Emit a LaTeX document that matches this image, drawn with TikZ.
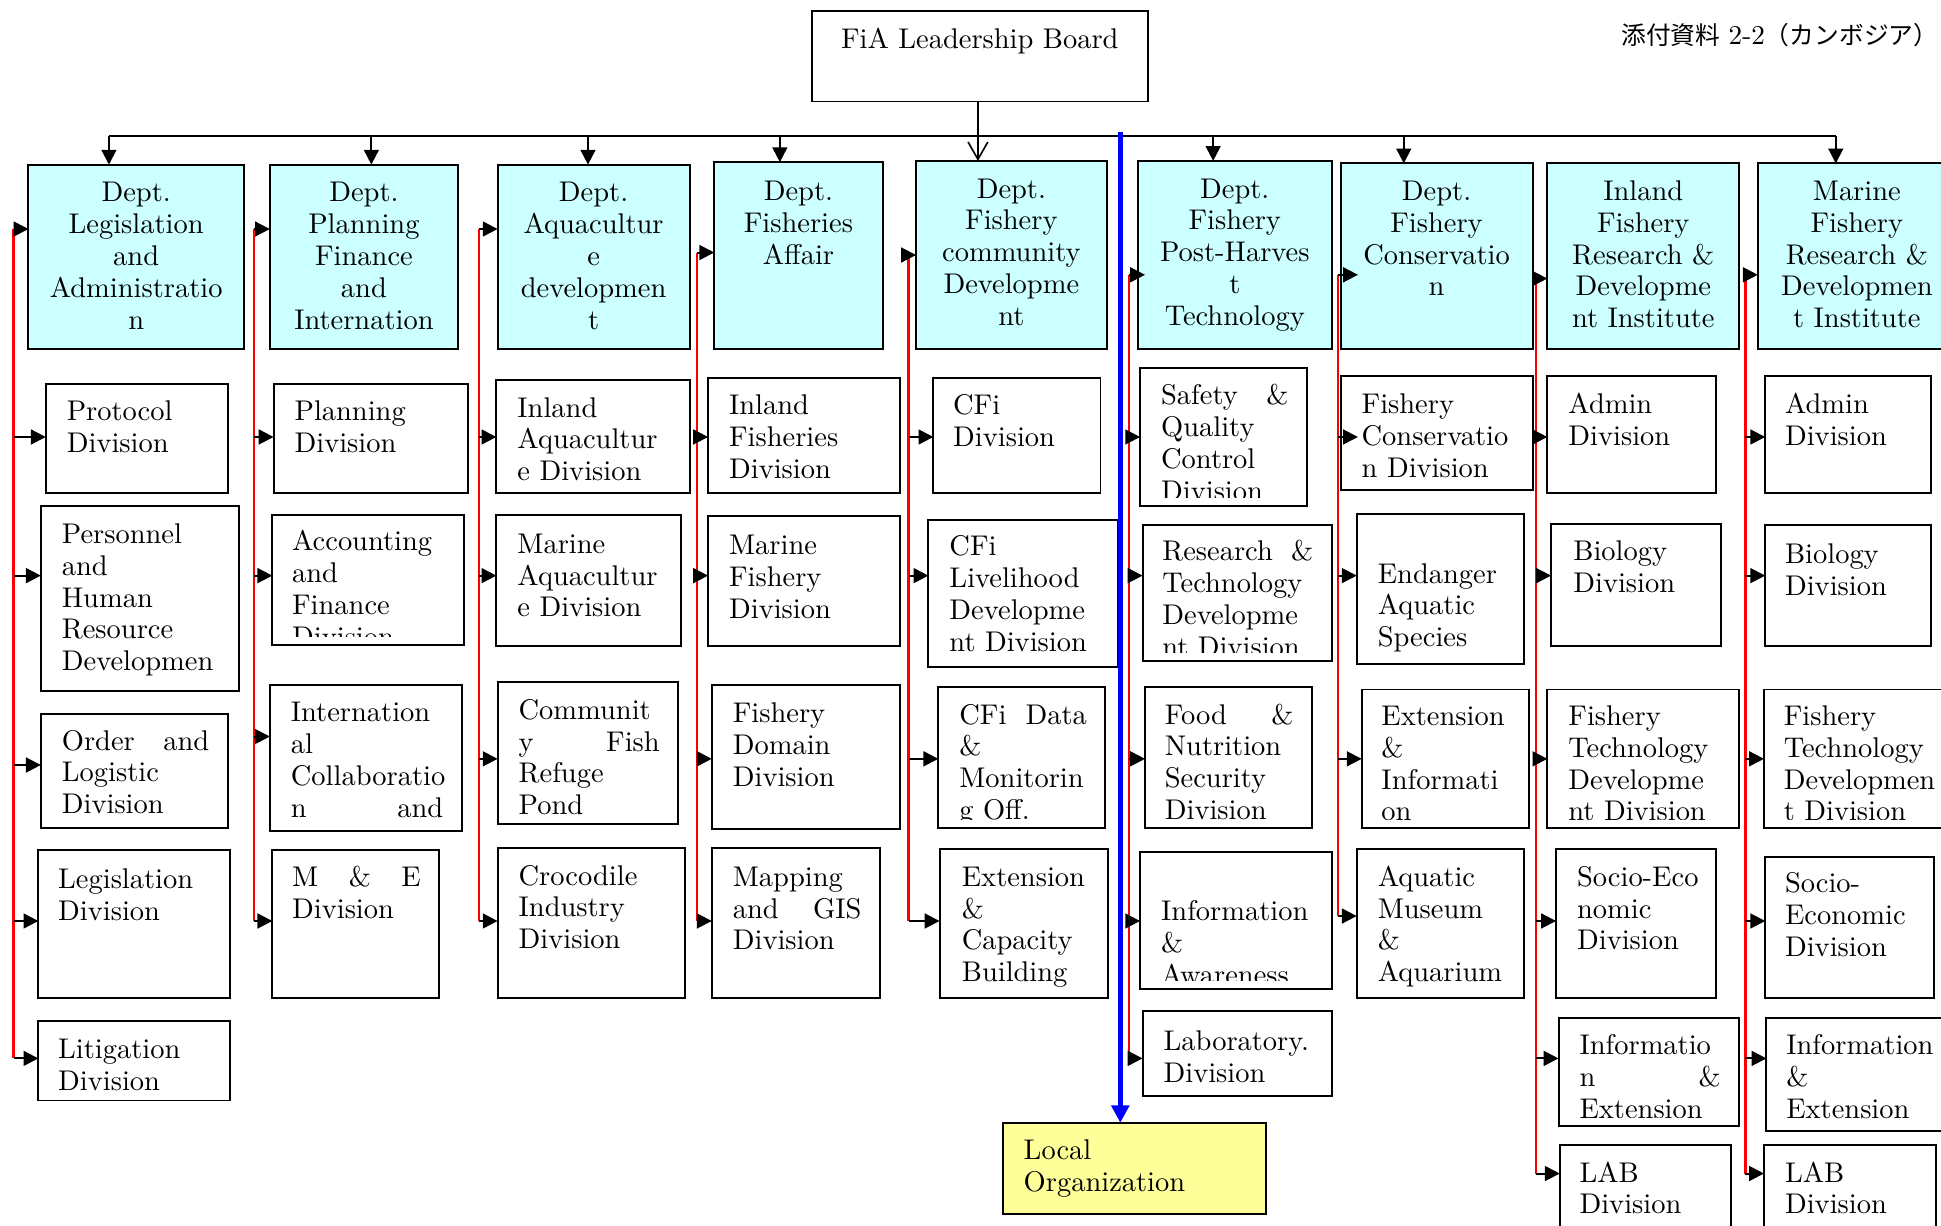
\documentclass[tikz,border=0pt]{standalone}
\usepackage{fontspec}
\setmainfont{lmroman10-regular}[Extension=.otf]
\newfontfamily\cjk{Noto Sans CJK JP}
\usetikzlibrary{arrows.meta}
\definecolor{cyanb}{HTML}{CCFFFF}
\definecolor{yel}{HTML}{FFFF99}
\tikzset{
 bx/.style={draw=black, line width=1.6pt, rectangle, inner sep=0pt, outer sep=0pt},
 txt/.style={inner sep=0pt, outer sep=0pt, font=\fontsize{23}{25.7}\selectfont},
 arr/.style={line width=1.6pt, -{Triangle[length=12pt,width=12pt]}},
 redl/.style={red, line width=2pt},
}
% name, x1, y1, x2, y2, text-x, first baseline, text
\newcommand\mybox[8]{%
 \node[bx, fill=white, minimum width={(#4-#2)*1pt}, minimum height={(#5-#3)*1pt}] (#1) at ({(#2+#4)/2},{(#3+#5)/2}) {};
 \begin{scope}
 \clip (#2,#3) rectangle (#4,#5-7);
 \node[txt, align=left, text width={(#4-#6-15)*1pt}, anchor=north west] (#1t) at (#6,#7-18) {\strut #8};
 \end{scope}}
% name, x1, y1, x2, y2, first baseline, text
\newcommand\mydept[7]{%
 \node[bx, fill=cyanb, minimum width={(#4-#2)*1pt}, minimum height={(#5-#3)*1pt}] (#1) at ({(#2+#4)/2},{(#3+#5)/2}) {};
 \begin{scope}
 \clip (#2,#3) rectangle (#4,#5-7);
 \node[txt, align=center, text width={(#4-#2-6)*1pt}, anchor=north] (#1t) at ({(#2+#4)/2},#6-18) {\strut #7};
 \end{scope}}
% coordinate name, x, y, target node
\newcommand\sidearr[4]{%
 \coordinate (#1) at (#2,#3);
 \draw[arr] (#1) -- (#1 -| #4.west);}
\begin{document}
\begin{tikzpicture}[x=1pt,y=-1pt]
\useasboundingbox (0,0) rectangle (1568,990);
\fill[white] (0,0) rectangle (1568,990);

% top
\node[bx, minimum width=271pt, minimum height=73pt] (fia) at (791.5,45.5) {};
\node[txt, anchor=north] (fiat) at (791.5,39-18) {\strut FiA Leadership Board};
\node[anchor=east, inner sep=0pt] (jp) at (1566,28) {\fontsize{20}{22}\selectfont{\cjk 添付資料} {\fontsize{22}{22}\selectfont 2-2}{\cjk （カンボジア）}};

% departments
\mydept{d1}{23}{133}{197}{282}{163}{Dept.\\Legislation\\and\\Administratio\\n}
\mydept{d2}{218}{133}{370}{282}{163}{Dept.\\Planning\\Finance\\and\\Internation}
\mydept{d3}{402}{133}{557}{282}{163}{Dept.\\Aquacultur\\e\\developmen\\t}
\mydept{d4}{577}{131}{713}{282}{162}{Dept.\\Fisheries\\Affair}
\mydept{d5}{740}{130}{894}{282}{160}{Dept.\\Fishery\\community\\Developme\\nt}
\mydept{d6}{919}{130}{1076}{282}{160}{Dept.\\Fishery\\Post-Harves\\t\\Technology}
\mydept{d7}{1083}{132}{1238}{282}{162}{Dept.\\Fishery\\Conservatio\\n}
\mydept{d8}{1250}{132}{1405}{282}{162}{Inland\\Fishery\\Research \&\\Developme\\nt Institute}
\mydept{d9}{1420}{132}{1580}{282}{162}{Marine\\Fishery\\Research \&\\Developmen\\t Institute}

% bus
\coordinate (t1) at (88,110);
\coordinate (t2) at (300,110);
\coordinate (t3) at (475,110);
\coordinate (t4) at (630,110);
\coordinate (t5) at (790,110);
\coordinate (t6) at (980,110);
\coordinate (t7) at (1134,110);
\coordinate (t9) at (1483,110);
\draw[line width=1.8pt] (t1) -- (t9);
\draw[arr] (t1) -- (t1 |- d1.north);
\draw[arr] (t2) -- (t2 |- d2.north);
\draw[arr] (t3) -- (t3 |- d3.north);
\draw[arr] (t4) -- (t4 |- d4.north);
\draw[arr] (t6) -- (t6 |- d6.north);
\draw[arr] (t7) -- (t7 |- d7.north);
\draw[arr] (t9) -- (t9 |- d9.north);
\draw[line width=1.3pt, -{Straight Barb[length=14pt,width=16pt,line width=1.3pt]}] (fia.south -| t5) -- (t5 |- d5.north);

% sub boxes column 1
\mybox{p1a}{37}{310}{184}{398}{54}{340}{Protocol\\Division}
\mybox{p1b}{33}{409}{193}{558}{50}{439}{Personnel\\and\\Human\\Resource\\Developmen}
\mybox{p1c}{33}{577}{184}{669}{50}{606}{Order\hfill and\\Logistic\\Division}
\mybox{p1d}{31}{687}{186}{806}{47}{718}{Legislation\\Division}
\mybox{p1e}{31}{825}{186}{889}{47}{855}{Litigation\\Division}
% column 2
\mybox{p2a}{221}{310}{378}{398}{238}{340}{Planning\\Division}
\mybox{p2b}{220}{416}{375}{521}{236}{445}{Accounting\\and\\Finance\\Division}
\mybox{p2c}{218}{553}{373}{671}{235}{583}{Internation\\al\\Collaboratio\\n\hfill and}
\mybox{p2d}{220}{687}{355}{806}{236}{716}{M\hfill \&\hfill E\\Division}
% column 3
\mybox{p3a}{401}{307}{557}{398}{418}{337}{Inland\\Aquacultur\\e Division}
\mybox{p3b}{401}{416}{550}{522}{418}{447}{Marine\\Aquacultur\\e Division}
\mybox{p3c}{402}{551}{548}{666}{419}{581}{Communit\\y\hfill Fish\\Refuge\\Pond}
\mybox{p3d}{402}{685}{553}{806}{419}{715}{Crocodile\\Industry\\Division}
% column 4
\mybox{p4a}{572}{305}{727}{398}{589}{335}{Inland\\Fisheries\\Division}
\mybox{p4b}{572}{417}{727}{522}{589}{448}{Marine\\Fishery\\Division}
\mybox{p4c}{575}{553}{727}{670}{592}{584}{Fishery\\Domain\\Division}
\mybox{p4d}{575}{685}{711}{806}{592}{716}{Mapping\\and\hfill GIS\\Division}
% column 5
\mybox{p5a}{754}{305}{889}{398}{770}{335}{CFi\\Division}
\mybox{p5b}{750}{420}{903}{539}{767}{449}{CFi\\Livelihood\\Developme\\nt Division}
\mybox{p5c}{758}{555}{893}{669}{775}{585}{CFi\hfill Data\\\&\\Monitorin\\g Off.}
\mybox{p5d}{759}{686}{895}{806}{777}{716}{Extension\\\&\\Capacity\\Building}
% column 6
\mybox{p6a}{921}{297}{1056}{409}{938}{327}{Safety\hfill \&\\Quality\\Control\\Division}
\mybox{p6b}{923}{424}{1076}{534}{939}{453}{Research\hfill \&\\Technology\\Developme\\nt Division}
\mybox{p6c}{925}{555}{1060}{669}{941}{585}{Food\hfill \&\\Nutrition\\Security\\Division}
\mybox{p6d}{921}{688}{1076}{799}{938}{744}{Information\\\&\\Awareness}
\mybox{p6e}{923}{817}{1076}{885}{940}{849}{Laboratory.\\Division}
% column 7
\mybox{p7a}{1083}{304}{1238}{396}{1100}{334}{Fishery\\Conservatio\\n Division}
\mybox{p7b}{1096}{415}{1231}{536}{1113}{471}{Endanger\\Aquatic\\Species}
\mybox{p7c}{1100}{557}{1235}{669}{1116}{586}{Extension\\\&\\Informati\\on}
\mybox{p7d}{1096}{686}{1231}{806}{1113}{716}{Aquatic\\Museum\\\&\\Aquarium}
% column 8
\mybox{p8a}{1250}{304}{1386}{398}{1267}{334}{Admin\\Division}
\mybox{p8b}{1253}{423}{1390}{522}{1271}{453}{Biology\\Division}
\mybox{p8c}{1250}{557}{1405}{669}{1267}{586}{Fishery\\Technology\\Developme\\nt Division}
\mybox{p8d}{1257}{686}{1386}{806}{1274}{716}{\mbox{Socio-Eco}\\nomic\\Division}
\mybox{p8e}{1259}{822}{1405}{910}{1276}{852}{Informatio\\n\hfill \&\\Extension}
\mybox{p8f}{1260}{925}{1398}{1000}{1276}{955}{LAB\\Division}
% column 9
\mybox{p9a}{1426}{304}{1560}{398}{1442}{334}{Admin\\Division}
\mybox{p9b}{1426}{424}{1560}{522}{1442}{455}{Biology\\Division}
\mybox{p9c}{1425}{557}{1580}{669}{1441}{586}{Fishery\\Technology\\Developmen\\t Division}
\mybox{p9d}{1426}{692}{1562}{806}{1442}{721}{Socio-\\Economic\\Division}
\mybox{p9e}{1427}{822}{1580}{914}{1443}{852}{Information\\\&\\Extension}
\mybox{p9f}{1425}{925}{1564}{1000}{1442}{955}{LAB\\Division}

% local organization
\node[bx, fill=yel, minimum width=213pt, minimum height=74pt] (loc) at (916.5,944) {};
\node[txt, align=left, anchor=north west] (loct) at (827,937-18) {\strut Local\\Organization};

% blue connector
\coordinate (tb) at (905,107);
\draw[blue, line width=4.5pt, -{Triangle[length=14pt,width=14pt]}] (tb) -- (tb |- loc.north);

% red spines
\coordinate (r1t) at (11,185);   \coordinate (r1b) at (11,855);
\coordinate (r2t) at (205,185);  \coordinate (r2b) at (205,744);
\coordinate (r3t) at (387,185);  \coordinate (r3b) at (387,744);
\coordinate (r4t) at (563,204);  \coordinate (r4b) at (563,744);
\coordinate (r5t) at (734,206);  \coordinate (r5b) at (734,744);
\coordinate (r6t) at (912,222);  \coordinate (r6b) at (912,855);
\coordinate (r7t) at (1081,222); \coordinate (r7b) at (1081,740);
\coordinate (r8t) at (1241,225); \coordinate (r8b) at (1241,948);
\coordinate (r9t) at (1410,222); \coordinate (r9b) at (1410,948);
\foreach \i in {1,...,9} {\draw[redl] (r\i t) -- (r\i b);}

% arrows to departments
\draw[arr] (r1t) -- (r1t -| d1.west);
\draw[arr] (r2t) -- (r2t -| d2.west);
\draw[arr] (r3t) -- (r3t -| d3.west);
\draw[arr] (r4t) -- (r4t -| d4.west);
\draw[arr] (r5t) -- (r5t -| d5.west);
\draw[arr, shorten >=-6pt] (r6t) -- (r6t -| d6.west);
\draw[arr, shorten >=-14pt] (r7t) -- (r7t -| d7.west);
\draw[arr] (r8t) -- (r8t -| d8.west);
\draw[arr] (r9t) -- (r9t -| d9.west);

% arrows to divisions
\sidearr{a1a}{11}{353}{p1a} \sidearr{a1b}{11}{465}{p1b} \sidearr{a1c}{11}{618}{p1c}
\sidearr{a1d}{11}{744}{p1d} \sidearr{a1e}{11}{855}{p1e}
\sidearr{a2a}{205}{353}{p2a} \sidearr{a2b}{205}{465}{p2b} \sidearr{a2c}{205}{595}{p2c} \sidearr{a2d}{205}{744}{p2d}
\sidearr{a3a}{387}{353}{p3a} \sidearr{a3b}{387}{465}{p3b} \sidearr{a3c}{387}{613}{p3c} \sidearr{a3d}{387}{744}{p3d}
\sidearr{a4a}{563}{353}{p4a} \sidearr{a4b}{563}{465}{p4b} \sidearr{a4c}{563}{613}{p4c} \sidearr{a4d}{563}{744}{p4d}
\sidearr{a5a}{734}{353}{p5a} \sidearr{a5b}{734}{465}{p5b} \sidearr{a5c}{734}{613}{p5c} \sidearr{a5d}{734}{744}{p5d}
\sidearr{a6a}{912}{353}{p6a} \sidearr{a6b}{912}{465}{p6b} \sidearr{a6c}{912}{613}{p6c} \sidearr{a6d}{912}{744}{p6d} \sidearr{a6e}{912}{855}{p6e}
\coordinate (a7a) at (1081,353); \draw[arr, shorten >=-14pt] (a7a) -- (a7a -| p7a.west);
\sidearr{a7b}{1081}{465}{p7b} \sidearr{a7c}{1081}{613}{p7c} \sidearr{a7d}{1081}{740}{p7d}
\sidearr{a8a}{1241}{353}{p8a} \sidearr{a8b}{1241}{465}{p8b} \sidearr{a8c}{1241}{613}{p8c}
\sidearr{a8d}{1241}{744}{p8d} \sidearr{a8e}{1241}{855}{p8e} \sidearr{a8f}{1241}{948}{p8f}
\sidearr{a9a}{1410}{353}{p9a} \sidearr{a9b}{1410}{465}{p9b} \sidearr{a9c}{1410}{613}{p9c}
\sidearr{a9d}{1410}{744}{p9d} \sidearr{a9e}{1410}{855}{p9e} \sidearr{a9f}{1410}{948}{p9f}
\end{tikzpicture}
\end{document}
